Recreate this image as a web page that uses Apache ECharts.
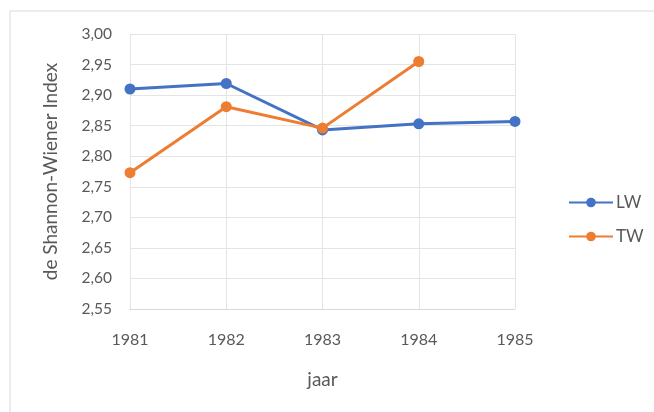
<!DOCTYPE html>
<html><head><meta charset="utf-8">
<script src="https://cdn.jsdelivr.net/npm/echarts@6/dist/echarts.min.js"></script>
<style>html,body{margin:0;padding:0;background:#fff}#c{width:654px;height:412px}</style>
</head><body><div id="c"></div>
<script>
const years = ['1981','1982','1983','1984','1985'];
const lwValues = [2.910, 2.919, 2.843, 2.853, 2.857];
const twValues = [2.773, 2.881, 2.846, 2.955, null];
const yTicks = {min: 2.55, max: 3.00, interval: 0.05};

const chart = echarts.init(document.getElementById('c'));
const font = 'Lato, "Open Sans", sans-serif';
chart.setOption({
  backgroundColor: '#fff',
  animation: false,
  textStyle: {fontFamily: font},
  graphic: [{type: 'rect', shape: {x: 10, y: 11, width: 660, height: 420},
    style: {fill: 'none', stroke: '#d9d9d9', lineWidth: 1}, silent: true}],
  grid: {left: 130, right: 139, top: 34, bottom: 103},
  legend: {
    orient: 'vertical', left: 563, top: 189, itemGap: 17, itemWidth: 44, itemHeight: 12,
    textStyle: {color: '#595959', fontSize: 17, fontFamily: font, padding: [0,0,0,-2]},
    data: ['LW', 'TW']
  },
  xAxis: {
    type: 'category', data: years, boundaryGap: false,
    name: 'jaar', nameLocation: 'middle', nameGap: 61,
    nameTextStyle: {color: '#595959', fontSize: 19, fontFamily: font},
    axisLine: {lineStyle: {color: '#d9d9d9'}},
    axisTick: {show: false},
    axisLabel: {color: '#595959', fontSize: 16, margin: 23, fontFamily: font},
    splitLine: {show: true, lineStyle: {color: '#e4e4e4'}}
  },
  yAxis: {
    type: 'value', min: yTicks.min, max: yTicks.max, interval: yTicks.interval,
    name: 'de Shannon-Wiener Index', nameLocation: 'middle', nameGap: 70,
    nameTextStyle: {color: '#595959', fontSize: 19, fontFamily: font},
    axisLine: {show: false}, axisTick: {show: false},
    axisLabel: {color: '#595959', fontSize: 15.5, margin: 18, fontFamily: font,
      formatter: v => v.toFixed(2).replace('.', ',')},
    splitLine: {lineStyle: {color: '#e4e4e4'}}
  },
  series: [
    {name: 'LW', type: 'line', data: lwValues, symbol: 'circle', symbolSize: 11,
     itemStyle: {color: '#4472C4'}, lineStyle: {color: '#4472C4', width: 3}},
    {name: 'TW', type: 'line', data: twValues, symbol: 'circle', symbolSize: 11,
     itemStyle: {color: '#ED7D31'}, lineStyle: {color: '#ED7D31', width: 3}}
  ]
});
</script></body></html>
